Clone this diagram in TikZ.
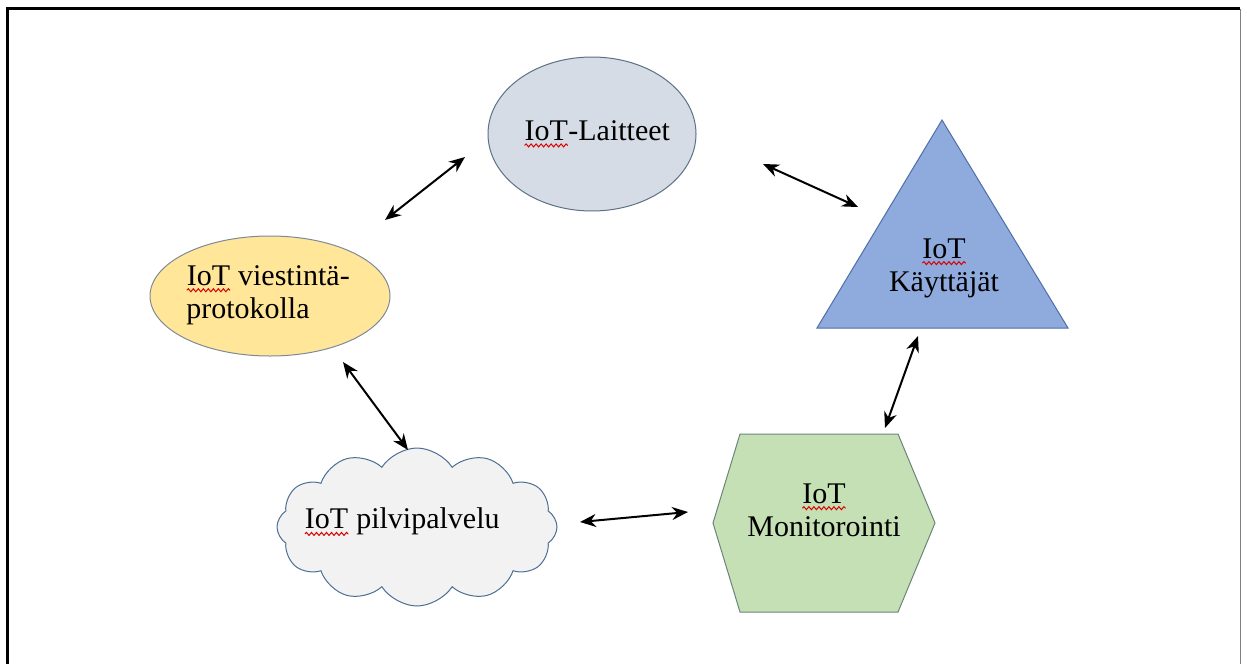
\documentclass[tikz,border=0pt]{standalone}
\usepackage{fontspec}
\setmainfont{Liberation Serif}
\usetikzlibrary{shapes.symbols,shapes.geometric,arrows.meta,decorations.pathmorphing}
\definecolor{laitfill}{HTML}{D6DCE5}
\definecolor{laitdraw}{HTML}{5E7185}
\definecolor{protfill}{HTML}{FFE699}
\definecolor{protdraw}{HTML}{7F8A99}
\definecolor{trifill}{HTML}{8FAADC}
\definecolor{tridraw}{HTML}{4F6FA8}
\definecolor{hexfill}{HTML}{C5E0B4}
\definecolor{hexdraw}{HTML}{6B8579}
\definecolor{cloudfill}{HTML}{F2F2F2}
\definecolor{clouddraw}{HTML}{4C6F94}
\newcommand\wig[1]{\tikz[baseline=(wt.base)]{\node[inner sep=0pt,outer sep=0pt](wt){#1};\draw[red!85!black,line width=1pt,decorate,decoration={snake,amplitude=1.5pt,segment length=5pt}]([yshift=-5pt]wt.base west)--([yshift=-5pt]wt.base east);}}
\tikzset{
  lbl/.style={font=\fontsize{30}{33}\selectfont, align=center, inner sep=0pt, text=black},
  shapeline/.style={line width=1pt},
  conn/.style={{Stealth[length=16pt,width=13pt]}-{Stealth[length=16pt,width=13pt]}, line width=2pt, black}
}
\begin{document}
\begin{tikzpicture}[x=1pt,y=-1pt]
\useasboundingbox (0,0) rectangle (1247,664);
\fill[white] (0,0) rectangle (1247,664);
% frame
\draw[line width=3pt] (7,664) -- (7,8.5) -- (1240,8.5);
\draw[line width=1pt,black!50] (1240,8.5) -- (1240,664);

% shapes
\node[ellipse, draw=laitdraw, fill=laitfill, shapeline, minimum width=208pt, minimum height=154pt, inner sep=0pt] (lait) at (592,134) {};
\node[ellipse, draw=protdraw, fill=protfill, shapeline, minimum width=240pt, minimum height=120pt, inner sep=0pt] (prot) at (270,296) {};
\draw[draw=tridraw, fill=trifill, shapeline] (942,120) -- (1068,328) -- (817,328) -- cycle;
\draw[draw=hexdraw, fill=hexfill, shapeline] (740,434) -- (898,434) -- (935,523) -- (898,612) -- (740,612) -- (713,523) -- cycle;
\node[cloud, cloud puffs=12, cloud puff arc=115, aspect=1.8, minimum width=280pt, minimum height=158pt, draw=clouddraw, fill=cloudfill, shapeline, inner sep=0pt] (cloud) at (417,527) {};

% labels
\node[lbl] (laitT) at (597,134) {\wig{IoT}-Laitteet};
\node[lbl, align=left] (protT) at (268,295) {\wig{IoT} viestintä-\\protokolla};
\node[lbl] (triT) at (944,268) {\wig{IoT}\\Käyttäjät};
\node[lbl] (hexT) at (824,510) {\wig{IoT}\\Monitorointi};
\node[lbl] (cloudT) at (402,522) {\wig{IoT} pilvipalvelu};

% connector ends
\coordinate (a1) at (385,220); \coordinate (a2) at (465,157);
\coordinate (b1) at (763,164); \coordinate (b2) at (858,207);
\coordinate (c1) at (343,362); \coordinate (c2) at (408,450);
\coordinate (d1) at (580,522); \coordinate (d2) at (688,512);
\coordinate (e1) at (885,428); \coordinate (e2) at (918,336);

\draw[conn] (a1) -- (a2);
\draw[conn] (b1) -- (b2);
\draw[conn] (c1) -- (c2);
\draw[conn] (d1) -- (d2);
\draw[conn] (e1) -- (e2);
\end{tikzpicture}
\end{document}
